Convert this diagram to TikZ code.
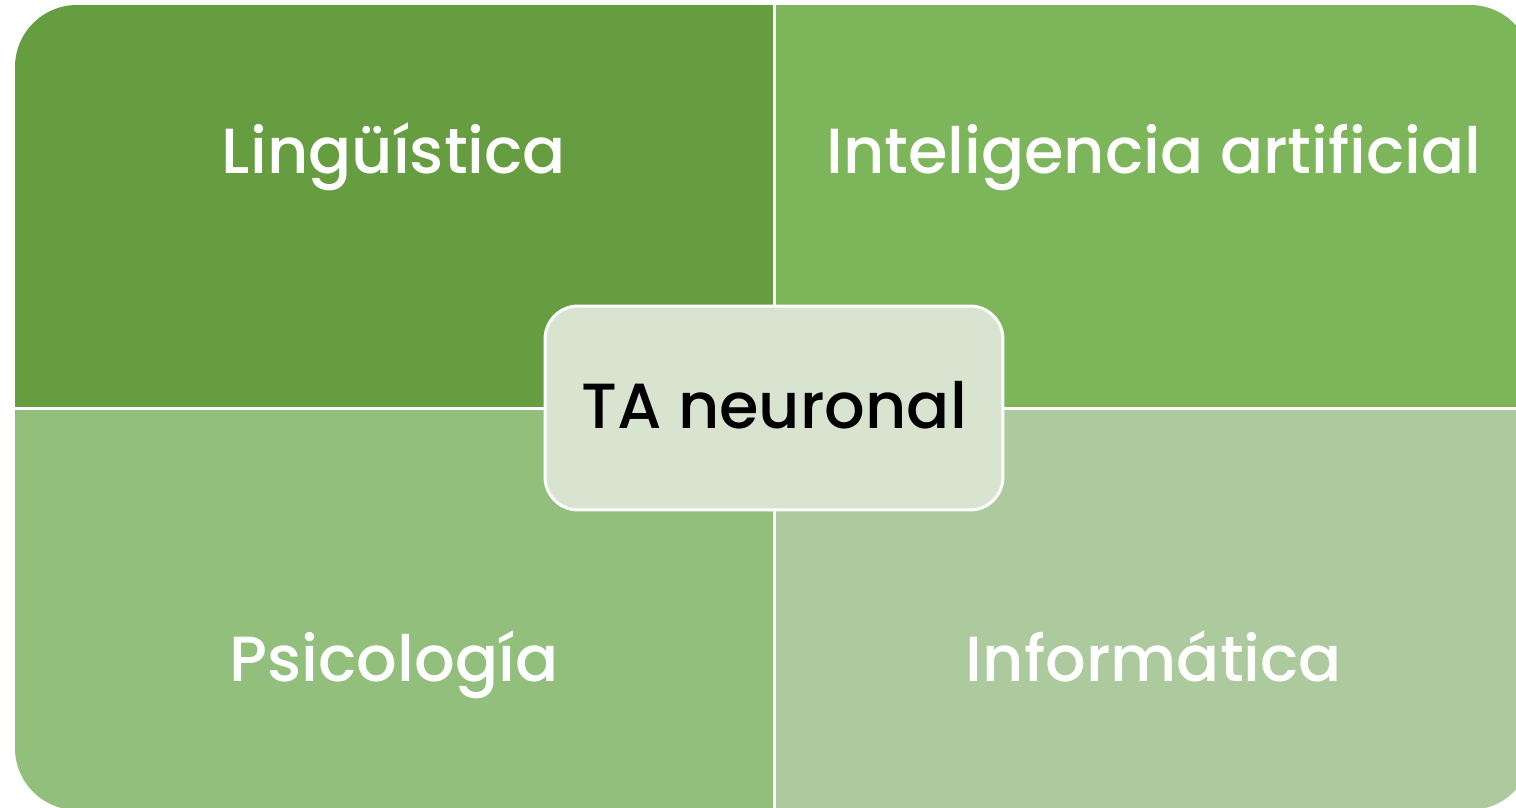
\documentclass[tikz,border=0pt]{standalone}
\usepackage{fontspec}
\setmainfont{Poppins}[BoldFont={Poppins Medium}]
\definecolor{lingcol}{RGB}{102,157,64}
\definecolor{iacol}{RGB}{125,181,90}
\definecolor{psicol}{RGB}{146,191,124}
\definecolor{infcol}{RGB}{172,202,157}
\definecolor{tacol}{RGB}{216,228,207}

\tikzset{
  field/.style={anchor=base, text=white, font=\fontsize{36.3}{44}\selectfont\bfseries},
  core/.style={draw=white, line width=0.06cm, fill=tacol, rounded corners=0.66cm,
    minimum width=9.16cm, minimum height=4.08cm},
}

\begin{document}
\begin{tikzpicture}[x=0.02cm,y=-0.02cm]
\useasboundingbox (0,0) rectangle (1516,808);

% four quarters inside one rounded block
\begin{scope}
\clip[rounded corners=1.24cm] (15,5) rectangle (1532,810);
\fill[lingcol] (15,5) rectangle (774,408);
\fill[iacol] (774,5) rectangle (1532,408);
\fill[psicol] (15,408) rectangle (774,810);
\fill[infcol] (774,408) rectangle (1532,810);
\draw[white, line width=0.06cm] (774,0) -- (774,810);
\draw[white, line width=0.06cm] (0,408) -- (1532,408);
\end{scope}

\node[field] (ling) at (394,173) {Lingüística};
\node[field] (ia) at (1154,173) {Inteligencia artificial};
\node[field] (psi) at (394,681) {Psicología};
\node[field] (inf) at (1154,681) {Informática};

\node[core] (ta) at (774,408) {};
\node[field, text=black] (talabel) at (774,428) {TA neuronal};

\end{tikzpicture}
\end{document}
